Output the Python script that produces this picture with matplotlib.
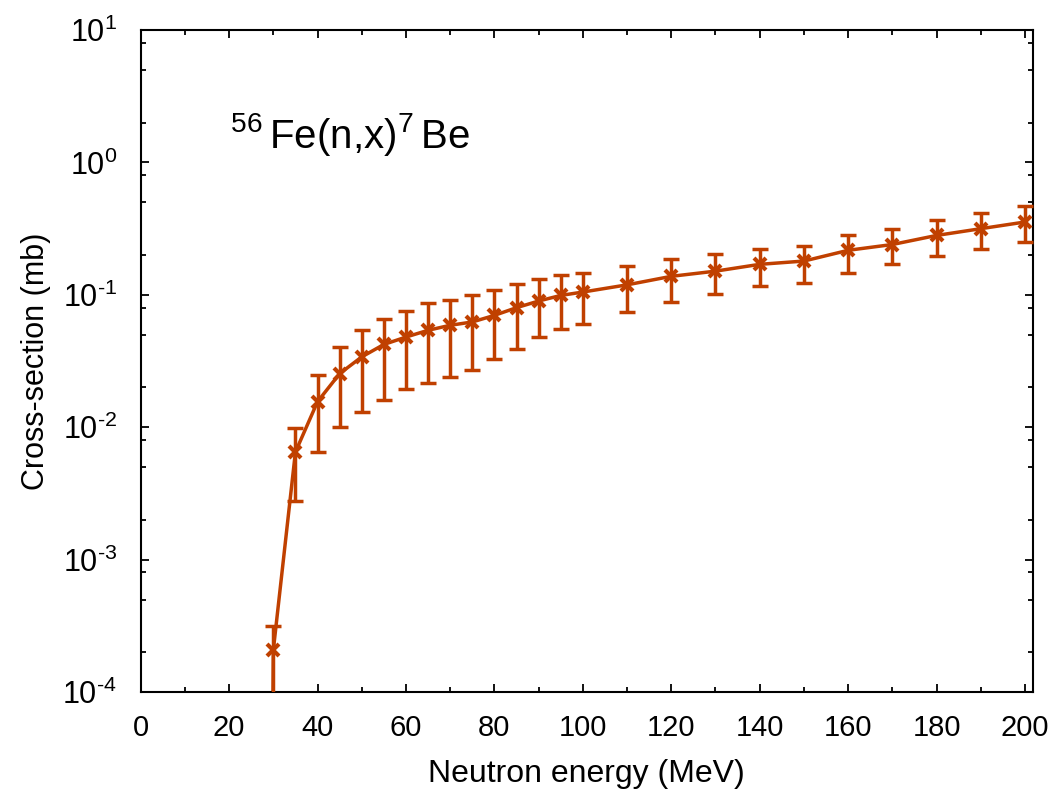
import numpy as np
import matplotlib
matplotlib.use("Agg")
import matplotlib.pyplot as plt
from matplotlib.ticker import LogLocator, MultipleLocator, NullFormatter, FuncFormatter

plt.rcParams['font.family'] = ['Liberation Sans', 'DejaVu Sans']
plt.rcParams['mathtext.fontset'] = 'custom'
plt.rcParams['mathtext.rm'] = 'Liberation Sans'
plt.rcParams['mathtext.default'] = 'regular'
plt.rcParams['axes.unicode_minus'] = False

# 56Fe(n,x)7Be excitation function
energy = [30, 35, 40, 45, 50, 55, 60, 65, 70, 75, 80, 85, 90, 95, 100,
          110, 120, 130, 140, 150, 160, 170, 180, 190, 200]
xs = [2.07e-4, 6.5e-3, 0.0156, 0.0254, 0.034, 0.0422, 0.048, 0.054, 0.0589,
      0.0624, 0.070, 0.080, 0.0898, 0.099, 0.105,
      0.119, 0.138, 0.151, 0.170, 0.180, 0.217, 0.240, 0.281, 0.316, 0.355]
xs_hi = [3.16e-4, 9.8e-3, 0.025, 0.0404, 0.054, 0.066, 0.076, 0.0867, 0.092,
         0.100, 0.109, 0.121, 0.132, 0.140, 0.146,
         0.166, 0.186, 0.204, 0.222, 0.235, 0.281, 0.316, 0.365, 0.414, 0.465]
xs_lo = [1e-6, 2.77e-3, 6.5e-3, 0.010, 0.013, 0.016, 0.0193, 0.0216, 0.024,
         0.027, 0.033, 0.039, 0.048, 0.0555, 0.0606,
         0.0745, 0.088, 0.102, 0.116, 0.123, 0.146, 0.170, 0.195, 0.223, 0.250]

# the curve drops below the frame just under threshold
thr_energy = [29.7]
thr_xs = [1e-5]

color = '#c04000'

fig = plt.figure(figsize=(10.56, 8.01), dpi=100)
ax = fig.add_axes([0.1332, 0.136, 0.8450, 0.8265])

e = np.array(energy)
y = np.array(xs)
yerr = [y - np.array(xs_lo), np.array(xs_hi) - y]

ax.plot(thr_energy + energy, thr_xs + xs, '-', color=color, lw=2.5, zorder=2)
ax.errorbar(e, y, yerr=yerr, fmt='none', ecolor=color, elinewidth=2.5,
            capsize=5.5, capthick=2.5, zorder=3)
ax.plot(e, y, 'x', color=color, ms=9, mew=3, zorder=4)

ax.set_yscale('log')
ax.set_xlim(0, 201.8)
ax.set_ylim(1e-4, 10)


def pow10(v, pos):
    # gnuplot style 10^-n with a plain hyphen
    n = int(round(np.log10(v)))
    return r'$10^{\text{%d}}$' % n


ax.xaxis.set_major_locator(MultipleLocator(20))
ax.xaxis.set_minor_locator(MultipleLocator(10))
ax.yaxis.set_major_locator(LogLocator(base=10, numticks=10))
ax.yaxis.set_minor_locator(LogLocator(base=10, subs=[2, 5, 8], numticks=20))
ax.yaxis.set_major_formatter(FuncFormatter(pow10))
ax.yaxis.set_minor_formatter(NullFormatter())

ax.tick_params(which='both', direction='in', top=True, right=True,
               labelsize=21, width=1.3)
ax.tick_params(which='major', length=6)
ax.tick_params(which='minor', length=3.5)
ax.tick_params(axis='x', which='major', pad=16)
ax.tick_params(axis='y', which='major', pad=17, labelsize=22)
for s in ax.spines.values():
    s.set_linewidth(1.5)

ax.set_xlabel('Neutron energy (MeV)', fontsize=23, labelpad=12)
ax.set_ylabel('Cross-section (mb)', fontsize=22, labelpad=8)

ax.text(0.10, 0.822, r'$^{56}\,$Fe(n,x)$^{7}\,$Be', transform=ax.transAxes,
        fontsize=29, ha='left', va='baseline')

fig.savefig('out.png', dpi=100)
